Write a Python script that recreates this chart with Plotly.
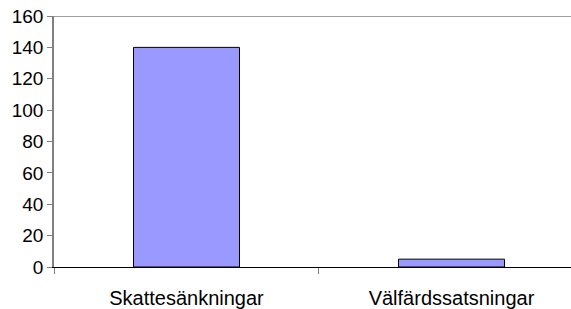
import plotly.graph_objects as go

categories = ["Skattesänkningar", "Välfärdssatsningar"]
values = [140, 5]
y_ticks = [0, 20, 40, 60, 80, 100, 120, 140, 160]

fig = go.Figure()
fig.add_trace(go.Bar(
    x=categories, y=values, width=0.4,
    marker=dict(color="#9999FF", line=dict(color="#000000", width=1)),
))
fig.add_shape(type="line", xref="paper", yref="y", x0=0, x1=1, y0=160, y1=160,
              line=dict(color="#808080", width=1.5))
fig.update_layout(
    width=571, height=309,
    margin=dict(l=54, r=0, t=16, b=42, autoexpand=False),
    paper_bgcolor="white", plot_bgcolor="white",
    font=dict(family="Liberation Sans, Arial, sans-serif", size=16, color="#000000"),
    showlegend=False,
)
fig.update_xaxes(
    type="category", range=[-0.5, 1.451], automargin=False,
    showline=True, linecolor="#000000", linewidth=1,
    ticks="outside", tickson="boundaries", ticklen=6, tickcolor="#808080",
    showgrid=False, ticklabelstandoff=13,
    tickfont=dict(size=20),
)
fig.update_yaxes(
    range=[0, 160], tickvals=y_ticks, automargin=False,
    showline=True, linecolor="#808080", linewidth=1.5,
    ticks="outside", ticklen=5, tickcolor="#808080",
    showgrid=False, zeroline=False, ticklabeloverflow="allow",
    tickfont=dict(size=19),
)
fig.write_html("out.html", config={"displayModeBar": False},
               post_script="document.body.style.margin='0';")
